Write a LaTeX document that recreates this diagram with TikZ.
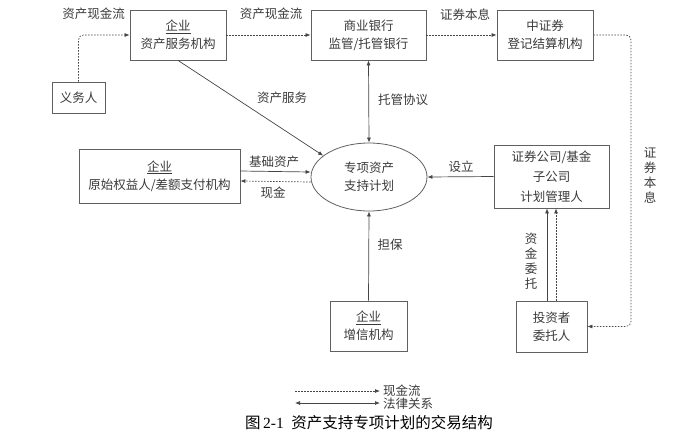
\documentclass[tikz,border=0pt]{standalone}
\usepackage{fontspec}
\setmainfont{Noto Sans CJK SC}
\newfontfamily\capserif{Liberation Serif}
\usetikzlibrary{shapes.geometric,arrows.meta}
\definecolor{txt}{HTML}{3A3A3A}
\definecolor{boxc}{HTML}{606060}
\definecolor{linec}{HTML}{454545}
\begin{document}
\begin{tikzpicture}[x=1pt,y=-1pt,
  font=\fontsize{12.5}{18}\selectfont,
  box/.style={draw=boxc, line width=0.8pt, text=txt, align=center, inner sep=0pt},
  lbl/.style={text=txt, inner sep=1pt, align=center},
  vlbl/.style={text=txt, inner sep=1pt, align=center, font=\fontsize{12.5}{15}\selectfont},
  tip/.tip={Latex[length=5pt,width=4pt]},
  legal/.style={draw=linec, line width=0.7pt, -tip},
  legal2/.style={draw=linec, line width=0.7pt, tip-tip},
  cash/.style={draw=linec, line width=0.7pt, dash pattern=on 1.5pt off 1.5pt, -tip},
]
\useasboundingbox (0,0) rectangle (696,445);

% nodes
\node[box, minimum width=96, minimum height=50] (svc) at (178,35) {\underline{企业}\\资产服务机构};
\node[box, minimum width=53, minimum height=31] (obl) at (78.5,97.5) {义务人};
\node[box, minimum width=115, minimum height=50] (bank) at (368.5,35) {商业银行\\监管/托管银行};
\node[box, minimum width=96, minimum height=50] (csdc) at (545,35) {中证券\\登记结算机构};
\node[box, minimum width=161, minimum height=54] (orig) at (159.5,176) {\underline{企业}\\原始权益人/差额支付机构};
\node[draw=boxc, line width=0.8pt, ellipse, minimum width=116, minimum height=68, inner sep=0pt, align=center, text=txt] (plan) at (369,177) {专项资产\\支持计划};
\node[box, minimum width=115, minimum height=63, font=\fontsize{12.5}{20}\selectfont] (mgr) at (551.5,176.5) {证券公司/基金\\子公司\\计划管理人};
\node[box, minimum width=77, minimum height=50] (guar) at (368.5,326) {\underline{企业}\\增信机构};
\node[box, minimum width=71, minimum height=51] (inv) at (551.5,326.5) {投资者\\委托人};

% connectors
\coordinate (rt) at (631,0);
\draw[cash, rounded corners=5pt] (obl.north) |- (svc.west);
\draw[cash] (svc.east) -- (bank.west);
\draw[cash] (bank.east) -- (csdc.west);
\draw[cash, rounded corners=5pt] (csdc.east) -| (rt |- inv.east) -- (inv.east);
\draw[legal] (svc.south) -- (plan.155);
\draw[legal2] (bank.south) -- (plan.north);
\draw[legal] ([yshift=5pt]orig.east) -- ([yshift=5pt]plan.west);
\draw[cash] ([yshift=-5pt]plan.west) -- ([yshift=-5pt]orig.east);
\draw[legal] (mgr.west) -- (plan.east);
\draw[legal] (guar.north) -- (plan.south);
\draw[legal] ([xshift=-4.5pt]inv.north) -- ([xshift=-4.5pt]mgr.south);
\draw[cash] ([xshift=4.5pt]inv.north) -- ([xshift=4.5pt]mgr.south);

% labels
\node[lbl] (l1) at (93.5,14) {资产现金流};
\node[lbl] (l2) at (271,14) {资产现金流};
\node[lbl] (l3) at (465,15) {证券本息};
\node[lbl] (l4) at (282,98) {资产服务};
\node[lbl] (l5) at (403,100) {托管协议};
\node[lbl] (l6) at (274,162) {基础资产};
\node[lbl] (l7) at (273,193) {现金};
\node[lbl] (l8) at (461,167) {设立};
\node[lbl] (l9) at (390,245) {担保};
\node[vlbl] (l10) at (650,175.5) {证\\券\\本\\息};
\node[vlbl] (l11) at (531,261) {资\\金\\委\\托};

% legend
\coordinate (lg1a) at (295,391);
\coordinate (lg1b) at (380,391);
\coordinate (lg2a) at (295,403);
\coordinate (lg2b) at (380,403);
\draw[cash] (lg1a) -- (lg1b);
\draw[legal2] (lg2a) -- (lg2b);
\node[lbl, anchor=west] (lt1) at (382,391) {现金流};
\node[lbl, anchor=west] (lt2) at (382,404) {法律关系};

% caption
\node[text=black, font=\fontsize{15.5}{18}\selectfont] (cap) at (369,423) {图\,{\capserif 2-1}\enspace 资产支持专项计划的交易结构};
\end{tikzpicture}
\end{document}
